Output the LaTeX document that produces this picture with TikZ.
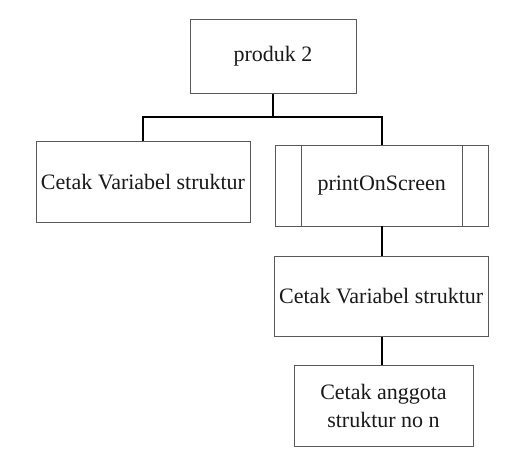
\documentclass[tikz,border=0pt]{standalone}
\usepackage{fontspec}
\setmainfont{Liberation Serif}
\newfontfamily\boxfont{Liberation Serif}
\begin{document}
\begin{tikzpicture}[x=1pt,y=-1pt,
  box/.style={draw=black!65,line width=0.9pt,rectangle,inner sep=0pt,align=center,
    font=\boxfont\fontsize{22}{28}\selectfont,text=black!90},
  conn/.style={draw=black,line width=1.7pt}]
\useasboundingbox (0,0) rectangle (530,461);
\node[box,minimum width=166pt,minimum height=74pt] (top) at (273,56.3) {produk 2};
\node[box,minimum width=214pt,minimum height=80.6pt] (left) at (143,182) {Cetak Variabel struktur};
\node[box,minimum width=213.3pt,minimum height=81pt] (right) at (381.7,185.5) {printOnScreen};
\draw[draw=black!65,line width=0.9pt] ([xshift=26.7pt]right.north west) -- ([xshift=26.7pt]right.south west);
\draw[draw=black!65,line width=0.9pt] ([xshift=-26.7pt]right.north east) -- ([xshift=-26.7pt]right.south east);
\node[box,minimum width=214.3pt,minimum height=80.7pt] (mid) at (381.2,296.3) {Cetak Variabel struktur};
\node[box,minimum width=179pt,minimum height=81pt] (bot) at (383.5,406) {Cetak anggota\\ struktur no n};
\coordinate (j) at (273,117.3);
\draw[conn] (top.south) -- (j);
\draw[conn] (left.north) |- (j) -| (right.north);
\draw[conn] (right.south) -- (right.south |- mid.north);
\draw[conn] (right.south |- mid.south) -- (right.south |- bot.north);
\end{tikzpicture}
\end{document}
